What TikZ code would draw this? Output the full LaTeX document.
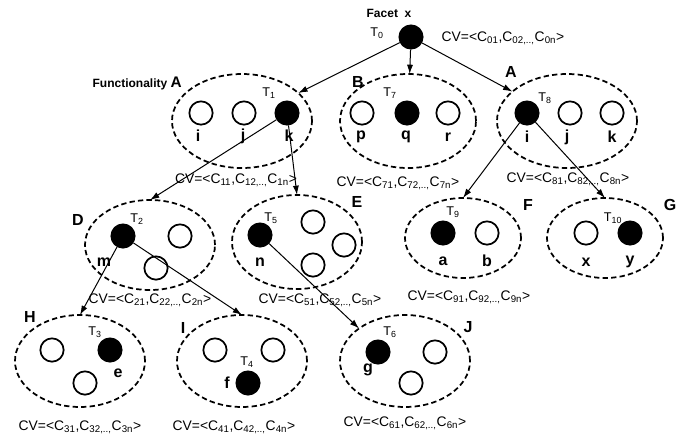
\documentclass[tikz,border=0pt]{standalone}
\usepackage{fontspec}
\setmainfont{Liberation Sans}
\usetikzlibrary{arrows.meta,shapes.geometric}
\tikzset{>=Latex,
  every node/.style={font=\fontsize{10.4}{12}\selectfont,inner sep=0pt},
  grp/.style={ellipse,draw,line width=1.3pt,dash pattern=on 4pt off 2.4pt,outer sep=0pt},
  elem/.style={circle,draw,line width=1.3pt,minimum size=17.5pt,inner sep=0pt},
  sel/.style={elem,fill=black},
  lbl/.style={font=\bfseries\fontsize{12}{13}\selectfont},
  head/.style={font=\bfseries\fontsize{9}{11}\selectfont},
  tag/.style={font=\fontsize{9.5}{11}\selectfont},
  link/.style={-{Latex[length=7pt,width=4.6pt]},line width=.75pt}}

\begin{document}
\begin{tikzpicture}[x=.75pt,y=-.75pt]
\useasboundingbox (0,0) rectangle (694,443);
% Root facet and its vector.
\node[sel] (t0) at (411,37) {};\node[head] (facet) at (389,13) {Facet\ \ x};
\node[tag] (lt0) at (377,33) {T\textsubscript{0}};\node (cv0) at (503,38) {CV=<C\textsubscript{01},C\textsubscript{02,..,}C\textsubscript{0n}>};
% First level: functionalities A, B, A.
\node[grp,minimum width=105pt,minimum height=70.5pt] (gA) at (242,121) {};
\node[head,anchor=east] (fa) at (182,83) {Functionality {\fontsize{11.5}{13}\selectfont A}};
\node[elem] (ai) at (201,113) {};\node[elem] (aj) at (244,113) {};\node[sel] (t1) at (287,113) {};
\node[lbl] (li) at (198,136) {i};\node[lbl] (lj) at (243,136) {j};\node[lbl] (lk) at (289,136) {k};
\node[tag] (lt1) at (269,93) {T\textsubscript{1}};\node (cv1) at (236,180) {CV=<C\textsubscript{11},C\textsubscript{12,..,}C\textsubscript{1n}>};
\node[grp,minimum width=102pt,minimum height=70.5pt] (gB) at (408,121) {};
\node[lbl] (fb) at (358,82) {B};
\node[elem] (bp) at (362,113) {};\node[sel] (t7) at (407,113) {};\node[elem] (br) at (448,113) {};
\node[lbl] (lp) at (361,137) {p};\node[lbl] (lq) at (406,137) {q};\node[lbl] (lr) at (448,137) {r};
\node[tag] (lt7) at (390,93) {T\textsubscript{7}};\node (cv7) at (398,183) {CV=<C\textsubscript{71},C\textsubscript{72,..,}C\textsubscript{7n}>};
\node[grp,minimum width=105pt,minimum height=70.5pt] (gA8) at (567,121) {};
\node[lbl] (fa8) at (511,72) {A};
\node[sel] (t8) at (527,113) {};\node[elem] (cj) at (570,113) {};\node[elem] (ck) at (612,113) {};
\node[lbl] (li8) at (527,137) {i};\node[lbl] (lj8) at (567,137) {j};\node[lbl] (lk8) at (612,137) {k};
\node[tag] (lt8) at (545,98) {T\textsubscript{8}};\node (cv8) at (568,179) {CV=<C\textsubscript{81},C\textsubscript{82,..,}C\textsubscript{8n}>};
% Second level: D, E, F, G.
\node[grp,minimum width=97.5pt,minimum height=67.5pt] (gD) at (150,245) {};
\node[lbl] (fd) at (78,220) {D};
\node[sel] (t2) at (123,236) {};\node[elem] (d2) at (180,236) {};\node[elem] (d3) at (156,268) {};
\node[lbl] (lm) at (104,262) {m};\node[tag] (lt2) at (137,219) {T\textsubscript{2}};
\node (cv2) at (150,300) {CV=<C\textsubscript{21},C\textsubscript{22,..,}C\textsubscript{2n}>};
\node[grp,minimum width=97.5pt,minimum height=70.5pt] (gE) at (297,242) {};
\node[lbl] (fe) at (357,202) {E};
\node[sel] (t5) at (260,235) {};\node[elem] (e2) at (313,222) {};\node[elem] (e3) at (344,245) {};\node[elem] (e4) at (313,265) {};
\node[lbl] (ln) at (260,262) {n};\node[tag] (lt5) at (271,218) {T\textsubscript{5}};
\node (cv5) at (320,300) {CV=<C\textsubscript{51},C\textsubscript{52,..,}C\textsubscript{5n}>};
\node[grp,minimum width=87pt,minimum height=60pt] (gF) at (463,238) {};
\node[lbl] (ff) at (528,205) {F};
\node[sel] (t9) at (443,233) {};\node[elem] (fb2) at (487,233) {};
\node[lbl] (la) at (443,261) {a};\node[lbl] (lb) at (487,261) {b};\node[tag] (lt9) at (453,212) {T\textsubscript{9}};
\node (cv9) at (469,297) {CV=<C\textsubscript{91},C\textsubscript{92,..,}C\textsubscript{9n}>};
\node[grp,minimum width=87pt,minimum height=60pt] (gG) at (605,238) {};
\node[lbl] (fg) at (670,205) {G};
\node[elem] (gx) at (586,233) {};\node[sel] (t10) at (630,233) {};
\node[lbl] (lx) at (586,262) {x};\node[lbl] (ly) at (630,262) {y};\node[tag] (lt10) at (613,218) {T\textsubscript{10}};
% Third level: H, I, J.
\node[grp,minimum width=97.5pt,minimum height=69pt] (gH) at (80,361) {};
\node[lbl] (fh) at (30,317) {H};
\node[elem] (h1) at (52,350) {};\node[sel] (t3) at (110,350) {};\node[elem] (h3) at (85,383) {};
\node[lbl] (le) at (118,373) {e};\node[tag] (lt3) at (95,332) {T\textsubscript{3}};
\node (cv3) at (80,427) {CV=<C\textsubscript{31},C\textsubscript{32,..,}C\textsubscript{3n}>};
\node[grp,minimum width=97.5pt,minimum height=69pt] (gI) at (242,361) {};
\node[lbl] (fi) at (183,328) {I};
\node[elem] (i1) at (215,350) {};\node[elem] (i2) at (273,350) {};\node[sel] (t4) at (248,383) {};
\node[lbl] (lf) at (227,383) {f};\node[tag] (lt4) at (247,362) {T\textsubscript{4}};
\node (cv4) at (234,427) {CV=<C\textsubscript{41},C\textsubscript{42,..,}C\textsubscript{4n}>};
\node[grp,minimum width=97.5pt,minimum height=69pt] (gJ) at (405,361) {};
\node[lbl] (fj) at (468,327) {J};
\node[sel] (t6) at (378,352) {};\node[elem] (j2) at (435,352) {};\node[elem] (j3) at (411,383) {};
\node[lbl] (lg) at (368,370) {g};\node[tag] (lt6) at (390,332) {T\textsubscript{6}};
\node (cv6) at (405,423) {CV=<C\textsubscript{61},C\textsubscript{62,..,}C\textsubscript{6n}>};
% Links between selected elements and groups.
\draw[link] (t0) -- (gA);\draw[link] (t0) -- (gB);\draw[link] (t0) -- (gA8);
\draw[link] (t1) -- (gD.north);\draw[link] (t1) -- (gE.north);
\draw[link] (t8) -- (gF.north);\draw[link] (t8) -- (gG.north);
\draw[link] (t2) -- (gH.north);\draw[link] (t2) -- (gI.north);
\draw[link] (t5) -- (gJ.north west);
\end{tikzpicture}
\end{document}
